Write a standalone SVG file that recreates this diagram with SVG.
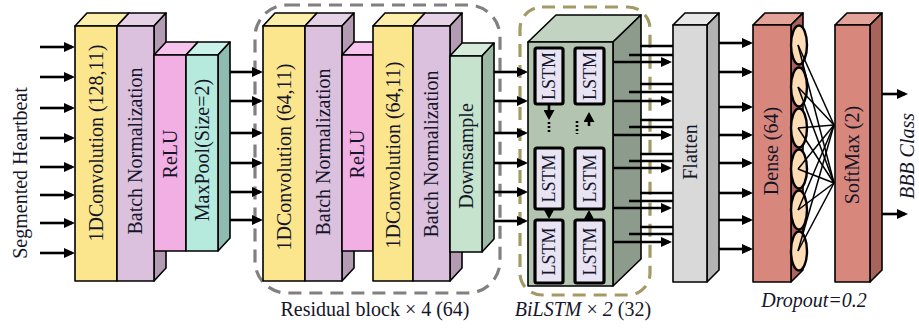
<svg xmlns="http://www.w3.org/2000/svg" width="919" height="329" viewBox="0 0 919 329">
<defs>
<marker id="ah" markerUnits="userSpaceOnUse" markerWidth="11" markerHeight="10" refX="8" refY="5" orient="auto"><path d="M0,0 L11,5 L0,10 z" fill="#000"/></marker>
<marker id="ah2" markerUnits="userSpaceOnUse" markerWidth="10" markerHeight="11" refX="7" refY="5.5" orient="auto"><path d="M0,0 L10,5.5 L0,11 z" fill="#000"/></marker>
</defs>
<style>
.f{stroke:#000;stroke-width:1.6;stroke-linejoin:round}
.cy1{fill:#fbe68d}.cy2{fill:#fdeeaa}
.bn1{fill:#dcc1de}.bn2{fill:#e6d2e7}.bn3{fill:#b39cb3}
.rl1{fill:#f1afe4}.rl2{fill:#f6c4ec}.rl3{fill:#c78fbd}
.mp1{fill:#b5eadd}.mp2{fill:#cbf2e8}.mp3{fill:#8ebcb1}
.ds1{fill:#c6e3cd}.ds2{fill:#d6ecdb}.ds3{fill:#9bb9a4}
.ls1{fill:#b3c5b1}.ls2{fill:#c3d3c1}.ls3{fill:#8c9b8b}
.fl1{fill:#d9d9d9}.fl2{fill:#e8e8e8}.fl3{fill:#b3b3b3}
.dn1{fill:#d8877c}.dn2{fill:#e4a399}.dn3{fill:#a8635b}
.cell{fill:#e8e4f3;stroke:#000;stroke-width:3.2}
.neu{fill:#fddcb6;stroke:#000;stroke-width:2.4}
.conn line{stroke:#000;stroke-width:2.6}
.conn .thin{stroke-width:1.5}
.a{marker-end:url(#ah)}
.a2{marker-end:url(#ah2)}
text{font-family:"Liberation Serif","Times New Roman",serif;font-size:20px;fill:#15152a}
.v{text-anchor:middle;dominant-baseline:central}
.lt{font-size:18px}
.it{font-style:italic}
</style>

<g id="residual-frame"><rect x="255" y="5" width="245" height="288" rx="32" fill="none" stroke="#808080" stroke-width="3.2" stroke-dasharray="13 8"/></g>
<g id="bilstm-frame"><rect x="520" y="7" width="130" height="288" rx="22" fill="none" stroke="#a39a66" stroke-width="3.2" stroke-dasharray="13 8"/></g>

<g id="input-label"><text class="v" transform="translate(20,173) rotate(-90)">Segmented Heartbeat</text></g>

<g id="conv1">
<polygon class="f cy2" points="75,26 87,13 129,13 117,26"/>
<rect class="f cy1" x="75" y="26" width="42" height="255"/>
<text class="v" transform="translate(96,143) rotate(-90)">1DConvolution (128,11)</text>
</g>
<g id="bn1">
<polygon class="f bn2" points="117,26 129,13 166,13 154,26"/>
<polygon class="f bn3" points="154,26 166,13 166,268 154,281"/>
<rect class="f bn1" x="117" y="26" width="37" height="255"/>
<text class="v" transform="translate(135,151) rotate(-90)">Batch Normalization</text>
</g>
<g id="relu1">
<polygon class="f rl2" points="154,55 166,42 198,42 186,55"/>
<rect class="f rl1" x="154" y="55" width="32" height="196"/>
<text class="v" transform="translate(170,154) rotate(-90)">ReLU</text>
</g>
<g id="maxpool">
<polygon class="f mp2" points="186,55 198,42 230,42 218,55"/>
<polygon class="f mp3" points="218,55 230,42 230,238 218,251"/>
<rect class="f mp1" x="186" y="55" width="32" height="196"/>
<text class="v" transform="translate(202,150) rotate(-90)">MaxPool(Size=2)</text>
</g>

<g id="conv2">
<polygon class="f cy2" points="263,26 275,13 317,13 305,26"/>
<rect class="f cy1" x="263" y="26" width="42" height="255"/>
<text class="v" transform="translate(284,157) rotate(-90)">1DConvolution (64,11)</text>
</g>
<g id="bn2">
<polygon class="f bn2" points="305,26 317,13 354,13 342,26"/>
<polygon class="f bn3" points="342,26 354,13 354,268 342,281"/>
<rect class="f bn1" x="305" y="26" width="37" height="255"/>
<text class="v" transform="translate(323,152) rotate(-90)">Batch Normalization</text>
</g>
<g id="relu2">
<polygon class="f rl2" points="342,55 354,42 385,42 373,55"/>
<rect class="f rl1" x="342" y="55" width="31" height="196"/>
<text class="v" transform="translate(357,154) rotate(-90)">ReLU</text>
</g>
<g id="conv3">
<polygon class="f cy2" points="373,26 385,13 425,13 413,26"/>
<rect class="f cy1" x="373" y="26" width="40" height="255"/>
<text class="v" transform="translate(393,155) rotate(-90)">1DConvolution (64,11)</text>
</g>
<g id="bn3">
<polygon class="f bn2" points="413,26 425,13 462,13 450,26"/>
<polygon class="f bn3" points="450,26 462,13 462,268 450,281"/>
<rect class="f bn1" x="413" y="26" width="37" height="255"/>
<text class="v" transform="translate(431,154) rotate(-90)">Batch Normalization</text>
</g>
<g id="downsample">
<polygon class="f ds2" points="450,56 462,43 494,43 482,56"/>
<polygon class="f ds3" points="482,56 494,43 494,239 482,252"/>
<rect class="f ds1" x="450" y="56" width="32" height="196"/>
<text class="v" transform="translate(466,156) rotate(-90)">Downsample</text>
</g>
<g id="residual-label"><text x="375" y="316" text-anchor="middle">Residual block × 4 (64)</text></g>

<g id="bilstm">
<polygon class="f ls2" points="528,42 556,15 641,15 613,42"/>
<polygon class="f ls3" points="613,42 641,15 641,259 613,286"/>
<rect class="f ls1" x="528" y="42" width="85" height="244"/>
<rect class="cell" x="535" y="48" width="28" height="56" rx="2"/>
<rect class="cell" x="575" y="48" width="29" height="56" rx="2"/>
<rect class="cell" x="535" y="148" width="28" height="61" rx="2"/>
<rect class="cell" x="575" y="148" width="29" height="61" rx="2"/>
<rect class="cell" x="535" y="220" width="28" height="63" rx="2"/>
<rect class="cell" x="575" y="220" width="29" height="63" rx="2"/>
<text class="v lt" transform="translate(549,76) rotate(-90)">LSTM</text>
<text class="v lt" transform="translate(589.5,76) rotate(-90)">LSTM</text>
<text class="v lt" transform="translate(549,178.5) rotate(-90)">LSTM</text>
<text class="v lt" transform="translate(589.5,178.5) rotate(-90)">LSTM</text>
<text class="v lt" transform="translate(549,251.5) rotate(-90)">LSTM</text>
<text class="v lt" transform="translate(589.5,251.5) rotate(-90)">LSTM</text>
</g>
<g id="bilstm-label"><text x="583" y="316" text-anchor="middle"><tspan class="it">BiLSTM</tspan> × <tspan class="it">2</tspan> (32)</text></g>

<g id="flatten">
<polygon class="f fl2" points="673,25 685,13 719,13 707,25"/>
<polygon class="f fl3" points="707,25 719,13 719,270 707,282"/>
<rect class="f fl1" x="673" y="25" width="34" height="257"/>
<text class="v" transform="translate(690,152) rotate(-90)">Flatten</text>
</g>
<g id="dense">
<polygon class="f dn2" points="753,25 765,13 803,13 791,25"/>
<polygon class="f dn3" points="791,25 803,13 803,270 791,282"/>
<rect class="f dn1" x="753" y="25" width="38" height="257"/>
<text class="v" transform="translate(771,151) rotate(-90)">Dense (64)</text>
<ellipse class="neu" cx="799" cy="45" rx="8" ry="19.5"/>
<ellipse class="neu" cx="799" cy="87" rx="8" ry="19.5"/>
<ellipse class="neu" cx="799" cy="128" rx="8" ry="19.5"/>
<ellipse class="neu" cx="799" cy="169" rx="8" ry="19.5"/>
<ellipse class="neu" cx="799" cy="210" rx="8" ry="19.5"/>
<ellipse class="neu" cx="799" cy="251" rx="8" ry="19.5"/>
</g>
<g id="dropout-label"><text class="it" x="814" y="307" text-anchor="middle">Dropout=0.2</text></g>
<g id="softmax">
<polygon class="f dn2" points="835,25 847,13 882,13 870,25"/>
<polygon class="f dn3" points="870,25 882,13 882,270 870,282"/>
<rect class="f dn1" x="835" y="25" width="35" height="257"/>
<text class="v" transform="translate(852,155) rotate(-90)">SoftMax (2)</text>
</g>
<g id="output-label"><text class="v it" font-size="19" transform="translate(907,156) rotate(-90)">BBB Class</text></g>

<g id="connectors" class="conn">
<line class="a" x1="40" y1="47" x2="72" y2="47"/>
<line class="a" x1="40" y1="77" x2="72" y2="77"/>
<line class="a" x1="40" y1="108" x2="72" y2="108"/>
<line class="a" x1="40" y1="138" x2="72" y2="138"/>
<line class="a" x1="40" y1="167" x2="72" y2="167"/>
<line class="a" x1="40" y1="195" x2="72" y2="195"/>
<line class="a" x1="40" y1="223" x2="72" y2="223"/>
<line class="a" x1="40" y1="253" x2="72" y2="253"/>

<line class="a" x1="230" y1="72" x2="260" y2="72"/>
<line class="a" x1="230" y1="101" x2="260" y2="101"/>
<line class="a" x1="230" y1="133" x2="260" y2="133"/>
<line class="a" x1="230" y1="163" x2="260" y2="163"/>
<line class="a" x1="230" y1="192" x2="260" y2="192"/>
<line class="a" x1="230" y1="220" x2="260" y2="220"/>

<line class="a" x1="494" y1="72" x2="525" y2="72"/>
<line class="a" x1="494" y1="101" x2="525" y2="101"/>
<line class="a" x1="494" y1="133" x2="525" y2="133"/>
<line class="a" x1="494" y1="163" x2="525" y2="163"/>
<line class="a" x1="494" y1="192" x2="525" y2="192"/>
<line class="a" x1="494" y1="221" x2="525" y2="221"/>

<line x1="640" y1="46" x2="673" y2="46"/><line x1="629" y1="55" x2="673" y2="55"/><line class="a" x1="614" y1="62" x2="669" y2="62"/>
<line x1="640" y1="84" x2="673" y2="84"/><line x1="629" y1="92" x2="673" y2="92"/><line class="a" x1="614" y1="101" x2="669" y2="101"/>
<line x1="640" y1="120" x2="673" y2="120"/><line x1="629" y1="127" x2="673" y2="127"/><line class="a" x1="614" y1="135" x2="669" y2="135"/>
<line x1="640" y1="154" x2="673" y2="154"/><line x1="629" y1="161" x2="673" y2="161"/><line class="a" x1="614" y1="168" x2="669" y2="168"/>
<line x1="640" y1="193" x2="673" y2="193"/><line x1="629" y1="201" x2="673" y2="201"/><line class="a" x1="614" y1="208" x2="669" y2="208"/>
<line x1="640" y1="227" x2="673" y2="227"/><line x1="629" y1="234" x2="673" y2="234"/><line class="a" x1="614" y1="242" x2="669" y2="242"/>

<line class="a2" x1="549" y1="104" x2="549" y2="117"/>
<line x1="549" y1="122" x2="549" y2="134" stroke-dasharray="2 2"/>
<line x1="577" y1="121" x2="577" y2="134" stroke-dasharray="2 2"/>
<line class="a2" x1="589" y1="126" x2="589" y2="115"/>
<line class="a2" x1="549" y1="209" x2="549" y2="216"/>
<line class="a2" x1="589" y1="220" x2="589" y2="213"/>

<line class="a" x1="719" y1="43" x2="750" y2="43"/>
<line class="a" x1="719" y1="72" x2="750" y2="72"/>
<line class="a" x1="719" y1="107" x2="750" y2="107"/>
<line class="a" x1="719" y1="135" x2="750" y2="135"/>
<line class="a" x1="719" y1="163" x2="750" y2="163"/>
<line class="a" x1="719" y1="193" x2="750" y2="193"/>
<line class="a" x1="719" y1="220" x2="750" y2="220"/>
<line class="a" x1="719" y1="249" x2="750" y2="249"/>

<line class="thin" x1="798" y1="45" x2="834" y2="125"/><line class="thin" x1="798" y1="45" x2="834" y2="183"/>
<line class="thin" x1="798" y1="87" x2="834" y2="125"/><line class="thin" x1="798" y1="87" x2="834" y2="183"/>
<line class="thin" x1="798" y1="128" x2="834" y2="125"/><line class="thin" x1="798" y1="128" x2="834" y2="183"/>
<line class="thin" x1="798" y1="169" x2="834" y2="125"/><line class="thin" x1="798" y1="169" x2="834" y2="183"/>
<line class="thin" x1="798" y1="210" x2="834" y2="125"/><line class="thin" x1="798" y1="210" x2="834" y2="183"/>
<line class="thin" x1="798" y1="251" x2="834" y2="125"/><line class="thin" x1="798" y1="251" x2="834" y2="183"/>

<line class="a" x1="882" y1="94" x2="905" y2="94"/>
<line class="a" x1="882" y1="214" x2="905" y2="214"/>
</g>
</svg>
